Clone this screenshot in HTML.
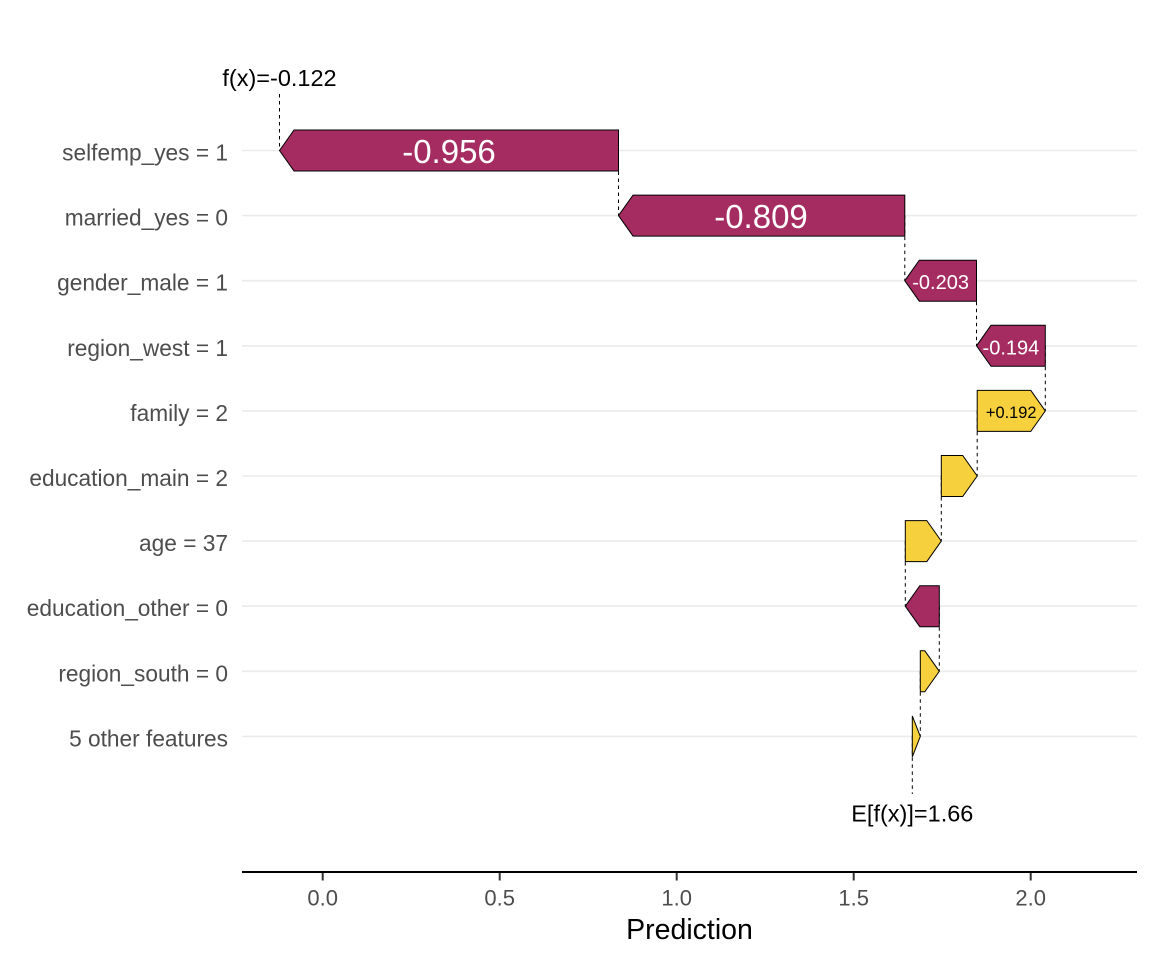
<!DOCTYPE html>
<html><head><meta charset="utf-8"><style>
html,body{margin:0;padding:0;background:#fff;}
svg{display:block;font-family:"Liberation Sans",Arial,sans-serif;}
</style></head><body>
<svg width="1152" height="960" viewBox="0 0 1152 960" xmlns="http://www.w3.org/2000/svg">
<rect width="1152" height="960" fill="#fff"/>
<!-- gridlines -->
<g stroke="#EBEBEB" stroke-width="1.6">
<line x1="242" x2="1137" y1="150.5" y2="150.5"/>
<line x1="242" x2="1137" y1="215.6" y2="215.6"/>
<line x1="242" x2="1137" y1="280.7" y2="280.7"/>
<line x1="242" x2="1137" y1="345.8" y2="345.8"/>
<line x1="242" x2="1137" y1="410.9" y2="410.9"/>
<line x1="242" x2="1137" y1="476" y2="476"/>
<line x1="242" x2="1137" y1="541.1" y2="541.1"/>
<line x1="242" x2="1137" y1="606.2" y2="606.2"/>
<line x1="242" x2="1137" y1="671.3" y2="671.3"/>
<line x1="242" x2="1137" y1="736.4" y2="736.4"/>
</g>
<!-- dashed connectors -->
<g stroke="#000" stroke-width="1" stroke-dasharray="3.5 3.5" fill="none">
<line x1="279.5" x2="279.5" y1="94" y2="150.5"/>
<line x1="618.5" x2="618.5" y1="150.5" y2="215.6"/>
<line x1="904.8" x2="904.8" y1="215.6" y2="280.7"/>
<line x1="976.5" x2="976.5" y1="280.7" y2="345.8"/>
<line x1="1045.3" x2="1045.3" y1="345.8" y2="410.9"/>
<line x1="977.2" x2="977.2" y1="410.9" y2="476"/>
<line x1="941.3" x2="941.3" y1="476" y2="541.1"/>
<line x1="905.3" x2="905.3" y1="541.1" y2="606.2"/>
<line x1="939.3" x2="939.3" y1="606.2" y2="671.3"/>
<line x1="920.3" x2="920.3" y1="671.3" y2="736.4"/>
<line x1="912.3" x2="912.3" y1="736.4" y2="794"/>
</g>
<!-- bars -->
<g stroke="#000" stroke-width="1" stroke-linejoin="miter">
<polygon fill="#A52C60" points="279.5,150.5 294,130 618.5,130 618.5,171 294,171"/>
<polygon fill="#A52C60" points="618.5,215.6 633,195.1 904.8,195.1 904.8,236.1 633,236.1"/>
<polygon fill="#A52C60" points="904.8,280.7 919.3,260.2 976.5,260.2 976.5,301.2 919.3,301.2"/>
<polygon fill="#A52C60" points="976.5,345.8 991,325.3 1045.3,325.3 1045.3,366.3 991,366.3"/>
<polygon fill="#F7D13D" points="977.2,390.4 1030.8,390.4 1045.3,410.9 1030.8,431.4 977.2,431.4"/>
<polygon fill="#F7D13D" points="941.3,455.5 962.7,455.5 977.2,476 962.7,496.5 941.3,496.5"/>
<polygon fill="#F7D13D" points="905.3,520.6 926.8,520.6 941.3,541.1 926.8,561.6 905.3,561.6"/>
<polygon fill="#A52C60" points="905.3,606.2 919.8,585.7 939.3,585.7 939.3,626.7 919.8,626.7"/>
<polygon fill="#F7D13D" points="920.3,650.8 924.8,650.8 939.3,671.3 924.8,691.8 920.3,691.8"/>
<polygon fill="#F7D13D" points="912.3,715.9 920.3,736.4 912.3,756.9"/>
</g>
<!-- bar labels -->
<g text-anchor="middle">
<text x="449" y="163" font-size="33" fill="#fff">-0.956</text>
<text x="761" y="228" font-size="33" fill="#fff">-0.809</text>
<text x="940.6" y="289.2" font-size="20" fill="#fff">-0.203</text>
<text x="1010.9" y="354.3" font-size="20" fill="#fff">-0.194</text>
<text x="1011.2" y="418.2" font-size="16.4" fill="#000">+0.192</text>
</g>
<!-- annotations -->
<g text-anchor="middle" fill="#000" font-size="23.5">
<text x="279.5" y="86">f(x)=-0.122</text>
<text x="912.3" y="821.5">E[f(x)]=1.66</text>
</g>
<!-- y labels -->
<g text-anchor="end" fill="#4D4D4D" font-size="22.7">
<text x="228" y="160.5">selfemp_yes = 1</text>
<text x="228" y="225.6">married_yes = 0</text>
<text x="228" y="290.7">gender_male = 1</text>
<text x="228" y="355.8">region_west = 1</text>
<text x="228" y="420.9">family = 2</text>
<text x="228" y="486">education_main = 2</text>
<text x="228" y="551.1">age = 37</text>
<text x="228" y="616.2">education_other = 0</text>
<text x="228" y="681.3">region_south = 0</text>
<text x="228" y="746.4">5 other features</text>
</g>
<!-- x axis -->
<line x1="242" x2="1137" y1="872" y2="872" stroke="#000" stroke-width="2"/>
<g stroke="#333" stroke-width="2">
<line x1="322.7" x2="322.7" y1="873" y2="880.5"/>
<line x1="499.7" x2="499.7" y1="873" y2="880.5"/>
<line x1="676.7" x2="676.7" y1="873" y2="880.5"/>
<line x1="853.7" x2="853.7" y1="873" y2="880.5"/>
<line x1="1030.7" x2="1030.7" y1="873" y2="880.5"/>
</g>
<g text-anchor="middle" fill="#4D4D4D" font-size="22">
<text x="322.7" y="905.5">0.0</text>
<text x="499.7" y="905.5">0.5</text>
<text x="676.7" y="905.5">1.0</text>
<text x="853.7" y="905.5">1.5</text>
<text x="1030.7" y="905.5">2.0</text>
</g>
<text x="689.5" y="939" text-anchor="middle" font-size="28.5" fill="#000">Prediction</text>
</svg>
</body></html>
